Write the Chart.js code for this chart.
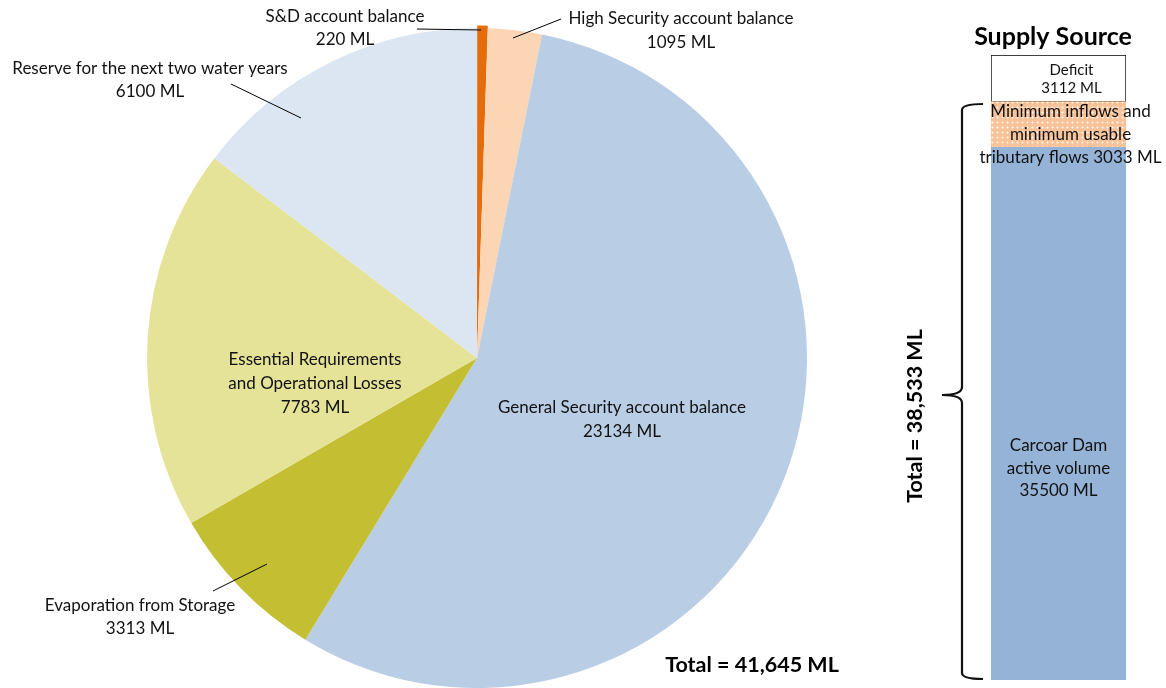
<!DOCTYPE html>
<html><head><meta charset="utf-8">
<script src="https://cdn.jsdelivr.net/npm/chart.js@4/dist/chart.umd.min.js"></script>
<style>
html,body{margin:0;padding:0;background:#fff;width:1166px;height:688px;overflow:hidden;}
#pieWrap{position:absolute;left:0;top:0;width:960px;height:688px;}
#barWrap{position:absolute;left:880px;top:0;width:286px;height:688px;}
canvas{display:block;}
</style></head><body>
<div id="pieWrap"><canvas id="pie" width="960" height="688"></canvas></div>
<div id="barWrap"><canvas id="bar" width="286" height="688"></canvas></div>
<script>
// ---------- DATA ----------
const pieCategories = ['S&D account balance','High Security account balance','General Security account balance','Evaporation from Storage','Essential Requirements and Operational Losses','Reserve for the next two water years'];
const pieValues = [220, 1095, 23134, 3313, 7783, 6100];
const pieLabelLines = [
  ['S&D account balance','220 ML'],
  ['High Security account balance','1095 ML'],
  ['General Security account balance','23134 ML'],
  ['Evaporation from Storage','3313 ML'],
  ['Essential Requirements','and Operational Losses','7783 ML'],
  ['Reserve for the next two water years','6100 ML']
];
const pieTotalText = 'Total = 41,645 ML';

const supplyCategories = ['Carcoar Dam active volume','Minimum inflows and minimum usable tributary flows','Deficit'];
const supplyValues = [35500, 3033, 3112];
const supplyLabelLines = [
  ['Carcoar Dam','active volume','35500 ML'],
  ['Minimum inflows and','minimum usable','tributary flows 3033 ML'],
  ['Deficit','3112 ML']
];
const supplyTitle = 'Supply Source';
const supplyTotalText = 'Total = 38,533 ML';

// ---------- STYLES ----------
const FONT = 'Lato, "Open Sans", sans-serif';
const pieColors = ['#E46C0A','#FCD5B5','#B9CDE5','#C3BE32','#E5E398','#DCE6F2'];
const pieOffsets = [5,0,0,0,0,0];
// label layout: [centerX, firstLineY, lineGap], leader line [x1,y1,x2,y2] or null
const pieLabelPos = [
  [345,17,23],[681,19,24],[622,408,24],[140,606,23],[315,360,24],[150,69,23]
];
const pieLeaders = [
  [417,29,481,30],[513,38,561,19],null,[213,591,267,564],null,[231,84,301,118]
];

function makePattern(){
  const c = document.createElement('canvas'); c.width = 5; c.height = 5;
  const g = c.getContext('2d');
  g.fillStyle = '#F9C39A'; g.fillRect(0,0,5,5);
  g.fillStyle = 'rgba(255,255,255,0.85)';
  g.fillRect(2,2,1,1);
  g.fillStyle = 'rgba(255,255,255,0.45)';
  g.fillRect(1,2,1,1); g.fillRect(3,2,1,1); g.fillRect(2,1,1,1); g.fillRect(2,3,1,1);
  return g.createPattern(c,'repeat');
}

const pieLabelsPlugin = {
  id:'pieLabels',
  afterDraw(chart){
    const ctx = chart.ctx;
    ctx.save();
    ctx.fillStyle = '#111';
    ctx.strokeStyle = '#000';
    ctx.lineWidth = 1;
    ctx.textAlign = 'center';
    ctx.textBaseline = 'middle';
    ctx.font = '17px ' + FONT;
    pieLabelLines.forEach((lines,i)=>{
      const [cx,y0,gap] = pieLabelPos[i];
      lines.forEach((t,j)=>ctx.fillText(t,cx,y0+j*gap));
      const L = pieLeaders[i];
      if(L){ ctx.beginPath(); ctx.moveTo(L[0],L[1]); ctx.lineTo(L[2],L[3]); ctx.stroke(); }
    });
    ctx.font = 'bold 21.5px ' + FONT;
    ctx.fillStyle = '#000';
    ctx.fillText(pieTotalText, 752, 665);
    ctx.restore();
  }
};

new Chart(document.getElementById('pie'), {
  type:'pie',
  data:{ labels: pieCategories, datasets:[{ data: pieValues, backgroundColor: pieColors, borderWidth:0, offset: pieOffsets }]},
  options:{
    responsive:false, animation:false, radius:330,
    layout:{ padding:{ left:147, right:153, top:28, bottom:0 } },
    plugins:{ legend:{display:false}, tooltip:{enabled:false} }
  },
  plugins:[pieLabelsPlugin]
});

const barLabelsPlugin = {
  id:'barLabels',
  afterDraw(chart){
    const ctx = chart.ctx;
    ctx.save();
    ctx.textAlign = 'center';
    ctx.textBaseline = 'middle';
    // title
    ctx.fillStyle = '#000';
    ctx.font = 'bold 25px ' + FONT;
    ctx.fillText(supplyTitle, 173, 37);
    // bar labels
    const m0 = chart.getDatasetMeta(0).data[0];
    const m1 = chart.getDatasetMeta(1).data[0];
    const m2 = chart.getDatasetMeta(2).data[0];
    ctx.fillStyle = '#111';
    ctx.font = '17px ' + FONT;
    supplyLabelLines[0].forEach((t,j)=>ctx.fillText(t, m0.x, 446 + j*22.5));
    ctx.font = '17px ' + FONT;
    supplyLabelLines[1].forEach((t,j)=>ctx.fillText(t, m1.x+12, m1.y + 10 + j*23));
    ctx.font = '15px ' + FONT;
    const dc = (m2.y + m2.base)/2;
    supplyLabelLines[2].forEach((t,j)=>ctx.fillText(t, m2.x+13, dc - 8 + j*18));
    // brace
    ctx.strokeStyle = '#111';
    ctx.lineWidth = 2.2;
    ctx.beginPath();
    const bx = 82, top = 104, bot = 679, mid = 395;
    ctx.moveTo(103, top);
    ctx.quadraticCurveTo(bx, top, bx, top+6);
    ctx.lineTo(bx, mid-8);
    ctx.quadraticCurveTo(bx, mid, 62, mid);
    ctx.quadraticCurveTo(bx, mid, bx, mid+8);
    ctx.lineTo(bx, bot-6);
    ctx.quadraticCurveTo(bx, bot, 103, bot);
    ctx.stroke();
    // rotated total
    ctx.save();
    ctx.translate(35, 416);
    ctx.rotate(-Math.PI/2);
    ctx.fillStyle = '#000';
    ctx.font = 'bold 21.5px ' + FONT;
    ctx.fillText(supplyTotalText, 0, 0);
    ctx.restore();
    ctx.restore();
  }
};

const supplyColors = ['#95B3D7', makePattern(), '#FFFFFF'];
const supplyBorders = [0, 0, 1];
const supplyTotal = supplyValues.reduce((a,b)=>a+b,0);

new Chart(document.getElementById('bar'), {
  type:'bar',
  data:{
    labels:['Supply'],
    datasets: supplyCategories.map((name,i)=>({
      label:name, data:[supplyValues[i]], backgroundColor: supplyColors[i],
      borderColor:'#000', borderWidth: supplyBorders[i], borderSkipped:false,
      barPercentage:1, categoryPercentage:1
    }))
  },
  options:{
    responsive:false, animation:false,
    layout:{ padding:{ left:111, right:40, top:55, bottom:8 } },
    scales:{
      x:{ stacked:true, display:false },
      y:{ stacked:true, display:false, min:0, max:supplyTotal }
    },
    plugins:{ legend:{display:false}, tooltip:{enabled:false} }
  },
  plugins:[barLabelsPlugin]
});
</script>
</body></html>
